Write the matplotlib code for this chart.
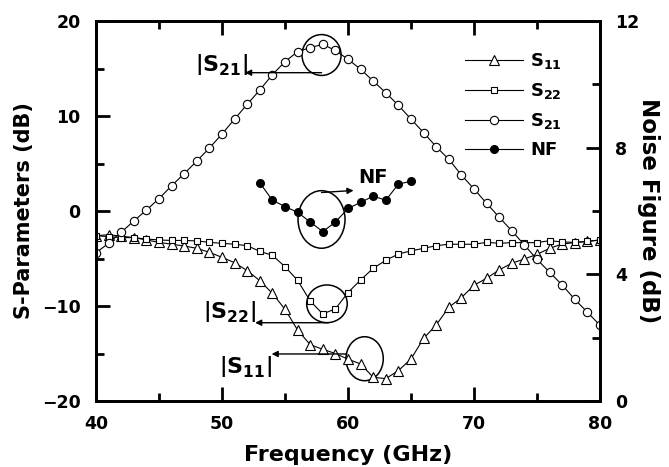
import matplotlib
matplotlib.use("Agg")
import matplotlib.pyplot as plt
from matplotlib.patches import Ellipse
from matplotlib.ticker import MultipleLocator

plt.rcParams['font.family'] = ['DejaVu Sans']
plt.rcParams['font.weight'] = 'bold'
plt.rcParams['mathtext.fontset'] = 'dejavusans'

freq = list(range(40, 81))
s21 = [-4.39, -3.4, -2.24, -1.05, 0.1, 1.3, 2.66, 3.93, 5.26, 6.63, 8.1, 9.68, 11.23,
       12.74, 14.35, 15.72, 16.77, 17.2, 17.54, 16.9, 15.97, 14.92, 13.68, 12.45, 11.12,
       9.68, 8.24, 6.77, 5.44, 3.79, 2.32, 0.81, -0.66, -2.08, -3.58, -5.09, -6.45,
       -7.79, -9.3, -10.66, -12.03]
s22 = [-2.6, -2.7, -2.8, -2.8, -2.95, -3.05, -3.1, -3.1, -3.15, -3.3, -3.4, -3.5, -3.65,
       -4.25, -4.67, -5.86, -7.3, -9.47, -10.84, -10.3, -8.58, -7.26, -6.03, -5.19, -4.53,
       -4.2, -3.93, -3.65, -3.5, -3.5, -3.5, -3.3, -3.4, -3.33, -3.33, -3.33, -3.12,
       -3.26, -3.3, -3.2, -3.05]
s11 = [-2.6, -2.5, -2.65, -2.8, -3.05, -3.3, -3.5, -3.68, -3.93, -4.35, -4.88, -5.44,
       -6.28, -7.33, -8.67, -10.35, -12.53, -14.07, -14.56, -15.0, -15.6, -16.1, -17.5,
       -17.65, -16.8, -15.58, -13.4, -12.0, -10.14, -9.12, -7.82, -7.08, -6.2, -5.5,
       -5.05, -4.56, -3.93, -3.47, -3.33, -3.2, -3.05]
nf_freq = list(range(53, 66))
nf = [6.89, 6.34, 6.14, 5.96, 5.65, 5.35, 5.65, 6.08, 6.27, 6.47, 6.34, 6.85, 6.94]

xlabel = "Frequency (GHz)"
ylabel_left = "S-Parameters (dB)"
ylabel_right = "Noise Figure (dB)"
legend_labels = [r'$\mathbf{S}_{\mathbf{11}}$', r'$\mathbf{S}_{\mathbf{22}}$',
                 r'$\mathbf{S}_{\mathbf{21}}$', 'NF']

fig = plt.figure(figsize=(6.69, 4.67), dpi=100)
ax = fig.add_axes([96/669, 1-401/467, 504/669, 380/467])
ax2 = ax.twinx()

lw = 0.8
mew = 0.8
h11, = ax.plot(freq, s11, '-', color='k', lw=lw, marker='^', ms=6.5, mfc='white', mec='k', mew=mew)
h22, = ax.plot(freq, s22, '-', color='k', lw=lw, marker='s', ms=5, mfc='white', mec='k', mew=mew)
h21, = ax.plot(freq, s21, '-', color='k', lw=lw, marker='o', ms=6, mfc='white', mec='k', mew=mew)
hnf, = ax2.plot(nf_freq, nf, '-', color='k', lw=lw, marker='o', ms=5.5, mfc='k', mec='k')

ax.set_xlim(40, 80)
ax.set_ylim(-20, 20)
ax2.set_ylim(0, 12)
ax.xaxis.set_major_locator(MultipleLocator(10))
ax.xaxis.set_minor_locator(MultipleLocator(5))
ax.yaxis.set_major_locator(MultipleLocator(10))
ax.yaxis.set_minor_locator(MultipleLocator(5))
ax2.yaxis.set_major_locator(MultipleLocator(4))
ax2.yaxis.set_minor_locator(MultipleLocator(2))

for a in (ax, ax2):
    for s in a.spines.values():
        s.set_linewidth(2)
ax.tick_params(which='both', direction='in', top=True, right=False, width=2, labelsize=12.5)
ax.tick_params(axis='x', pad=10)
ax.tick_params(axis='y', pad=11)
ax.tick_params(which='major', length=10)
ax.tick_params(which='minor', length=6)
ax2.tick_params(which='both', direction='in', width=2, labelsize=12.5, pad=11)
ax2.tick_params(which='major', length=10)
ax2.tick_params(which='minor', length=6)

ax.set_xlabel(xlabel, fontsize=16, fontweight='bold', labelpad=9)
ax.set_ylabel(ylabel_left, fontsize=15, fontweight='bold', labelpad=6)
ax2.set_ylabel(ylabel_right, fontsize=16.5, fontweight='bold', rotation=270, labelpad=15)

# annotations: ellipses
ell_kw = dict(fill=False, edgecolor='k', lw=1.1)
ax.add_patch(Ellipse((57.9, 16.42), 3.1, 4.3, **ell_kw))
ax.add_patch(Ellipse((57.9, -0.89), 3.73, 6.06, **ell_kw))
ax.add_patch(Ellipse((58.33, -9.77), 3.22, 3.97, **ell_kw))
ax.add_patch(Ellipse((61.32, -15.55), 2.96, 4.63, **ell_kw))

arr = dict(arrowstyle='-|>', lw=1, color='k', mutation_scale=9, shrinkA=0, shrinkB=0)
ax.annotate('', xy=(51.83, 14.56), xytext=(57.9, 14.56), arrowprops=arr)
ax.annotate('', xy=(60.44, 2.16), xytext=(57.9, 1.95), arrowprops=arr)
ax.annotate('', xy=(52.63, -11.76), xytext=(58.43, -11.76), arrowprops=arr)
ax.annotate('', xy=(53.94, -15.05), xytext=(59.9, -15.05), arrowprops=arr)

ax.text(49.92, 15.47, r'$\left|\mathbf{S}_{\mathbf{21}}\right|$', fontsize=16, ha='center', va='center')
ax.text(50.63, -10.6, r'$\left|\mathbf{S}_{\mathbf{22}}\right|$', fontsize=16, ha='center', va='center')
ax.text(51.83, -16.39, r'$\left|\mathbf{S}_{\mathbf{11}}\right|$', fontsize=16, ha='center', va='center')
ax.text(61.98, 3.53, 'NF', fontsize=14, fontweight='bold', ha='center', va='center')

leg = ax.legend([h11, h22, h21, hnf], legend_labels, loc='upper left',
                bbox_to_anchor=(0.732, 0.92), frameon=False, fontsize=13,
                handlelength=3.2, handletextpad=0.4, labelspacing=0.55,
                borderpad=0, borderaxespad=0)
for t in leg.get_texts():
    t.set_fontweight('bold')

fig.savefig('out.png', dpi=100)
